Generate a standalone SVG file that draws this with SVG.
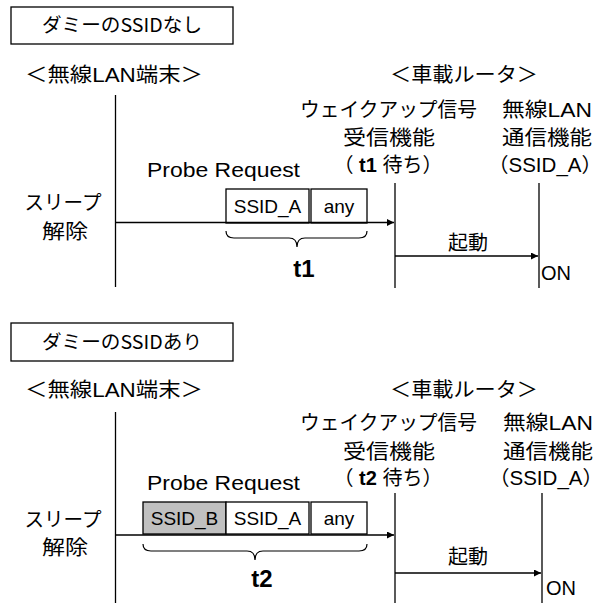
<svg xmlns="http://www.w3.org/2000/svg" width="605" height="603" viewBox="0 0 605 603">
<style>
text{font-family:"Liberation Sans","Noto Sans CJK JP",sans-serif;font-size:20px;fill:#000;text-anchor:middle}
.ttl{font-family:"Noto Sans CJK JP",sans-serif;font-size:19px}
.st{text-anchor:start}
.b{font-weight:bold}
.big{font-weight:bold;font-size:24px}
.fl{font-size:19px}
.box{fill:#fff;stroke:#000;stroke-width:1.3}
.gray{fill:#c0c0c0;stroke:#000;stroke-width:1.3}
.life{stroke:#000;stroke-width:1.3;fill:none}
.arr{stroke:#000;stroke-width:1.3;fill:none;marker-end:url(#ah)}
.brace{stroke:#000;stroke-width:1.2;fill:none}
</style>
<defs>
<marker id="ah" viewBox="0 0 10 10" refX="10" refY="5" markerWidth="8" markerHeight="7" markerUnits="userSpaceOnUse" orient="auto">
<path d="M0,0 L10,5 L0,10 Z" fill="#000"/>
</marker>
</defs>
<rect width="605" height="603" fill="#fff"/>

<!-- Section 1 -->
<g id="title1"><rect class="box" x="11" y="7" width="222" height="37"/><text class="ttl" x="122" y="32" textLength="160" lengthAdjust="spacingAndGlyphs">ダミーのSSIDなし</text></g>
<g id="terminal1"><text x="114" y="82" textLength="178" lengthAdjust="spacingAndGlyphs">＜無線LAN端末＞</text></g>
<g id="router1"><text x="464" y="82" textLength="148" lengthAdjust="spacingAndGlyphs">＜車載ルータ＞</text></g>
<g id="wakeup1">
<text x="388.5" y="117" textLength="177" lengthAdjust="spacingAndGlyphs">ウェイクアップ信号</text>
<text x="389" y="145" textLength="92" lengthAdjust="spacingAndGlyphs">受信機能</text>
<text x="388" y="172">（ <tspan class="b">t1</tspan> 待ち）</text>
</g>
<g id="wlan1">
<text x="547" y="117" textLength="90" lengthAdjust="spacingAndGlyphs">無線LAN</text>
<text x="547" y="145" textLength="90" lengthAdjust="spacingAndGlyphs">通信機能</text>
<text class="st" x="488" y="172" textLength="114" lengthAdjust="spacingAndGlyphs">（SSID_A）</text>
</g>
<g id="sleep1">
<text x="63" y="210" textLength="77" lengthAdjust="spacingAndGlyphs">スリープ</text>
<text x="65" y="239" textLength="46" lengthAdjust="spacingAndGlyphs">解除</text>
</g>
<g id="probe1">
<text x="223.5" y="177" textLength="153" lengthAdjust="spacingAndGlyphs">Probe Request</text>
<rect class="box" x="226" y="189" width="83" height="34"/>
<text class="fl" x="267.5" y="213">SSID_A</text>
<rect class="box" x="311" y="189" width="56" height="34"/>
<text class="fl" x="339" y="213">any</text>
<path class="brace" d="M226,231 q0,7 8,7 L289,238 q8,0 8,9 q0,-9 8,-9 L359,238 q8,0 8,-7"/>
<text class="big" x="304" y="277">t1</text>
</g>
<g id="on1"><text x="556" y="280">ON</text></g>

<!-- Section 2 -->
<g id="title2"><rect class="box" x="11" y="323" width="222" height="38"/><text class="ttl" x="122" y="349" textLength="160" lengthAdjust="spacingAndGlyphs">ダミーのSSIDあり</text></g>
<g id="terminal2"><text x="114" y="397" textLength="178" lengthAdjust="spacingAndGlyphs">＜無線LAN端末＞</text></g>
<g id="router2"><text x="464" y="397" textLength="148" lengthAdjust="spacingAndGlyphs">＜車載ルータ＞</text></g>
<g id="wakeup2">
<text x="388.5" y="430" textLength="177" lengthAdjust="spacingAndGlyphs">ウェイクアップ信号</text>
<text x="389" y="459" textLength="92" lengthAdjust="spacingAndGlyphs">受信機能</text>
<text x="388" y="485">（ <tspan class="b">t2</tspan> 待ち）</text>
</g>
<g id="wlan2">
<text x="548" y="430" textLength="90" lengthAdjust="spacingAndGlyphs">無線LAN</text>
<text x="548" y="459" textLength="90" lengthAdjust="spacingAndGlyphs">通信機能</text>
<text class="st" x="489" y="485" textLength="114" lengthAdjust="spacingAndGlyphs">（SSID_A）</text>
</g>
<g id="sleep2">
<text x="63" y="527" textLength="77" lengthAdjust="spacingAndGlyphs">スリープ</text>
<text x="65" y="555" textLength="46" lengthAdjust="spacingAndGlyphs">解除</text>
</g>
<g id="probe2">
<text x="223.5" y="490" textLength="153" lengthAdjust="spacingAndGlyphs">Probe Request</text>
<rect class="gray" x="143" y="502" width="83" height="32"/>
<text class="fl" x="184.5" y="525">SSID_B</text>
<rect class="box" x="226" y="502" width="83" height="32"/>
<text class="fl" x="267.5" y="525">SSID_A</text>
<rect class="box" x="311" y="502" width="56" height="32"/>
<text class="fl" x="339" y="525">any</text>
<path class="brace" d="M143,544 q0,7 8,7 L247,551 q8,0 8,9 q0,-9 8,-9 L359,551 q8,0 8,-7"/>
<text class="big" x="262" y="587">t2</text>
</g>
<g id="on2"><text x="561" y="595">ON</text></g>

<g id="connectors">
<line class="life" x1="115.5" y1="95" x2="115.5" y2="287"/>
<line class="life" x1="395" y1="183" x2="395" y2="288"/>
<line class="life" x1="539" y1="183" x2="539" y2="288"/>
<line class="arr" x1="115.5" y1="222.5" x2="394" y2="222.5"/>
<line class="arr" x1="395" y1="256" x2="538" y2="256"/>
<text x="468" y="250">起動</text>
<line class="life" x1="115.5" y1="412" x2="115.5" y2="603"/>
<line class="life" x1="395" y1="493" x2="395" y2="603"/>
<line class="life" x1="542" y1="493" x2="542" y2="603"/>
<line class="arr" x1="115.5" y1="535" x2="394" y2="535"/>
<line class="arr" x1="395" y1="573" x2="541" y2="573"/>
<text x="468" y="564">起動</text>
</g>
</svg>
